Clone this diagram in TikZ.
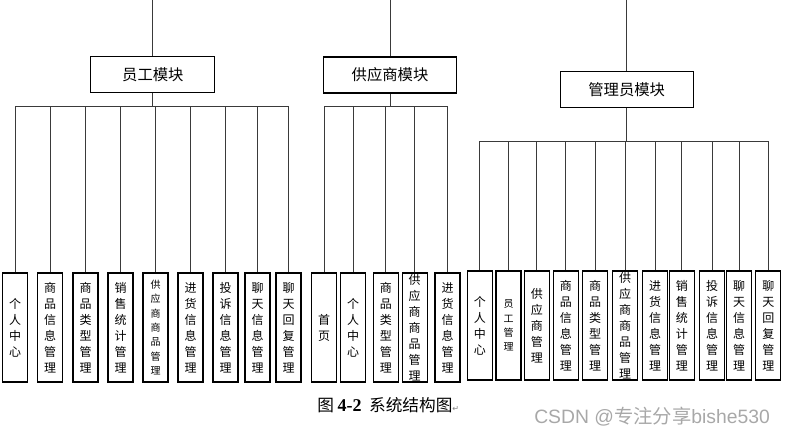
\documentclass[tikz,border=0pt]{standalone}
\usepackage{fontspec}
\setmainfont{Liberation Sans}
\newfontfamily\cjk{Noto Sans CJK SC}
\newfontfamily\symfont{DejaVu Sans}
\newfontfamily\capserif{Liberation Serif}
\usetikzlibrary{positioning}
\definecolor{linegray}{HTML}{3A3A3A}
\definecolor{markgray}{HTML}{A8A8A8}

\begin{document}
\begin{tikzpicture}[
    x=0.75pt, y=-0.75pt,
    every node/.style={font=\cjk},
    module/.style={draw, line width=0.8pt, minimum width=#1, minimum height=27pt,
                   font=\cjk\fontsize{11.5}{13}\selectfont},
    leaf/.style={draw, line width=0.8pt, minimum width=18.75pt, minimum height=81.75pt,
                 inner sep=0pt, align=center, font=\cjk\fontsize{9}{12}\selectfont},
    smalltext/.style={font=\cjk\fontsize{7.5}{10.8}\selectfont},
    link/.style={draw=linegray, line width=0.7pt},
  ]
  \useasboundingbox (0,0) rectangle (785,437);

  % three modules
  \node[module=93pt]  (emp) at (152.85, 74.7) {员工模块};
  \node[module=100pt] (sup) at (390, 75)      {供应商模块};
  \node[module=100pt] (adm) at (626.7, 89.7)  {管理员模块};

  % employee functions
  \node[leaf] (e1) at (15.2, 327.5)  {个\\人\\中\\心};
  \node[leaf] (e2) at (50.2, 327.5)  {商\\品\\信\\息\\管\\理};
  \node[leaf] (e3) at (85.5, 327.5)  {商\\品\\类\\型\\管\\理};
  \node[leaf] (e4) at (120.5, 327.5) {销\\售\\统\\计\\管\\理};
  \node[leaf, smalltext] (e5) at (155.5, 327.5) {供\\应\\商\\商\\品\\管\\理};
  \node[leaf] (e6) at (190.5, 327.5) {进\\货\\信\\息\\管\\理};
  \node[leaf] (e7) at (225.5, 327.5) {投\\诉\\信\\息\\管\\理};
  \node[leaf] (e8) at (257.5, 327.5) {聊\\天\\信\\息\\管\\理};
  \node[leaf] (e9) at (288.5, 327.5) {聊\\天\\回\\复\\管\\理};

  % supplier functions
  \node[leaf] (s1) at (324.2, 327.5) {首\\页};
  \node[leaf] (s2) at (353.2, 327.5) {个\\人\\中\\心};
  \node[leaf] (s3) at (385.8, 327.5) {商\\品\\类\\型\\管\\理};
  \node[leaf] (s4) at (414.7, 327.5) {供\\应\\商\\商\\品\\管\\理};
  \node[leaf] (s5) at (447.5, 327.5) {进\\货\\信\\息\\管\\理};

  % admin functions
  \node[leaf] (a1)  at (479.8, 325.5) {个\\人\\中\\心};
  \node[leaf, smalltext] (a2) at (508.5, 325.5) {员\\工\\管\\理};
  \node[leaf] (a3)  at (536.8, 325.5) {供\\应\\商\\管\\理};
  \node[leaf] (a4)  at (565.8, 325.5) {商\\品\\信\\息\\管\\理};
  \node[leaf] (a5)  at (595.2, 325.5) {商\\品\\类\\型\\管\\理};
  \node[leaf] (a6)  at (625, 325.5)   {供\\应\\商\\商\\品\\管\\理};
  \node[leaf] (a7)  at (655, 325.5)   {进\\货\\信\\息\\管\\理};
  \node[leaf] (a8)  at (681.8, 325.5) {销\\售\\统\\计\\管\\理};
  \node[leaf] (a9)  at (712.2, 325.5) {投\\诉\\信\\息\\管\\理};
  \node[leaf] (a10) at (739.2, 325.5) {聊\\天\\信\\息\\管\\理};
  \node[leaf] (a11) at (768.3, 325.5) {聊\\天\\回\\复\\管\\理};

  % free ends and bus points
  \coordinate (etop) at (152.85, 0);
  \coordinate (stop) at (390, 0);
  \coordinate (atop) at (626.7, 0);
  \coordinate (ebus) at (152.85, 106.7);
  \coordinate (sbus) at (390, 106.7);
  \coordinate (abus) at (626.7, 141);

  \draw[link] (etop) -- (emp);
  \draw[link] (stop) -- (sup);
  \draw[link] (atop) -- (adm);
  \draw[link] (emp) -- (ebus);
  \draw[link] (sup) -- (sbus);
  \draw[link] (adm) -- (abus);

  \draw[link] (ebus) -| (e1);
  \draw[link] (ebus) -| (e2);
  \draw[link] (ebus) -| (e3);
  \draw[link] (ebus) -| (e4);
  \draw[link] (ebus) -| (e5);
  \draw[link] (ebus) -| (e6);
  \draw[link] (ebus) -| (e7);
  \draw[link] (ebus) -| (e8);
  \draw[link] (ebus) -| (e9);

  \draw[link] (sbus) -| (s1);
  \draw[link] (sbus) -| (s2);
  \draw[link] (sbus) -| (s3);
  \draw[link] (sbus) -| (s4);
  \draw[link] (sbus) -| (s5);

  \draw[link] (abus) -| (a1);
  \draw[link] (abus) -| (a2);
  \draw[link] (abus) -| (a3);
  \draw[link] (abus) -| (a4);
  \draw[link] (abus) -| (a5);
  \draw[link] (abus) -| (a6);
  \draw[link] (abus) -| (a7);
  \draw[link] (abus) -| (a8);
  \draw[link] (abus) -| (a9);
  \draw[link] (abus) -| (a10);
  \draw[link] (abus) -| (a11);

  % caption and watermark
  \node[anchor=west, inner sep=0pt, font=\cjk\fontsize{12.5}{14}\selectfont] (caption) at (317, 405.5)
    {图 {\capserif\bfseries\fontsize{13.5}{14}\selectfont 4-2}\ \ 系统结构图{\symfont\fontsize{6}{6}\selectfont\color{gray}↵}};
  \node[anchor=west, inner sep=0pt, text=markgray, font=\fontsize{14.5}{16}\selectfont] (mark) at (534, 416.7)
    {CSDN @{\cjk 专注分享}bishe530};
\end{tikzpicture}
\end{document}
